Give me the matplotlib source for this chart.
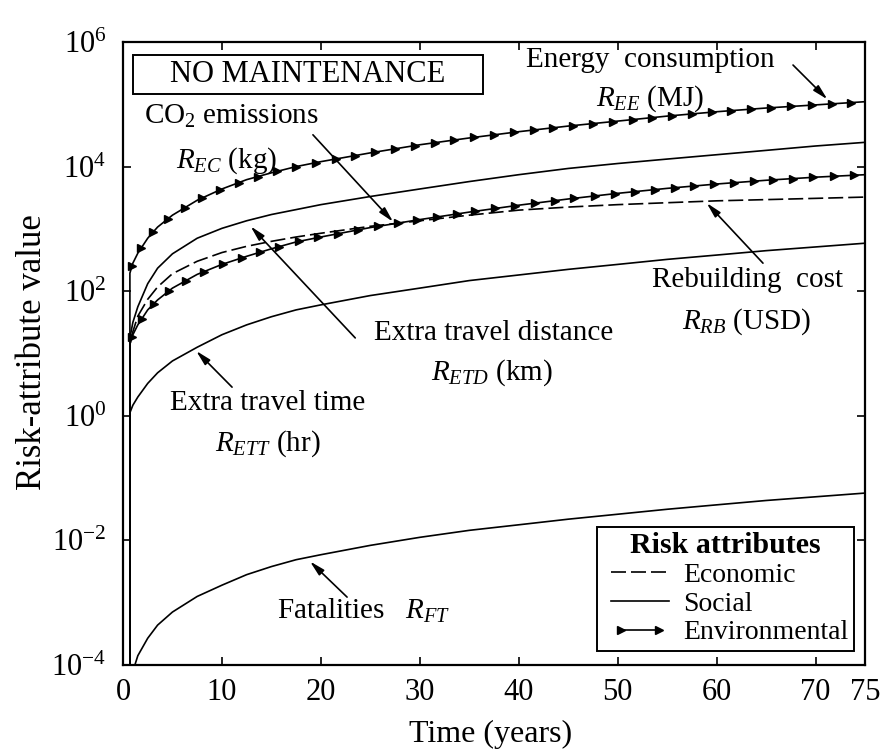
import numpy as np
import matplotlib
matplotlib.use("Agg")
import matplotlib.pyplot as plt
from matplotlib.lines import Line2D
from matplotlib.legend_handler import HandlerLine2D
from matplotlib.patches import Rectangle
from matplotlib.ticker import FixedLocator, LogFormatterMathtext, NullLocator

plt.rcParams.update({
    "font.family": "Liberation Serif",
    "mathtext.fontset": "custom",
    "mathtext.rm": "Liberation Serif",
    "mathtext.it": "Liberation Serif:italic",
    "mathtext.bf": "Liberation Serif:bold",
})

# Time axis (years) and cumulative risk attributes, no maintenance scenario
years = [0.62, 0.7, 1.0, 1.5, 2.5, 3.5, 5, 7.5, 10, 12.5, 15, 17.5, 20,
         25, 30, 35, 40, 45, 50, 55, 60, 65, 70, 75]
energy_mj = [0, 195, 282, 407, 708, 1070, 1660, 2880, 4370, 6170, 7940,
             10000, 12000, 16600, 22400, 28800, 36300, 44700, 53700, 64600,
             75900, 87100, 97700, 110000]
travel_distance_km = [0, 17.8, 31.6, 56.2, 132, 234, 398, 708, 1020, 1350,
                      1700, 2040, 2450, 3310, 4370, 5750, 7410, 9330, 11200,
                      13200, 15500, 18200, 21400, 24500]
co2_kg = [0, 14.1, 20.0, 28.8, 50.1, 72.4, 112, 186, 269, 363, 479, 617,
          741, 1050, 1410, 1860, 2400, 3020, 3720, 4470, 5250, 6030, 6760,
          7410]
rebuilding_usd = [0, 14.1, 22.4, 39.8, 74.1, 117, 191, 302, 417, 525, 631,
                  741, 851, 1100, 1350, 1660, 2000, 2240, 2450, 2630, 2820,
                  2950, 3090, 3240]
travel_time_hr = [0, 1.12, 1.48, 2.0, 3.31, 4.9, 7.59, 12.6, 20.0, 28.8,
                  38.9, 50.1, 60.3, 85.1, 112, 148, 182, 224, 269, 324, 380,
                  447, 513, 589]
fatalities = [0, 0, 7.9e-5, 1.41e-4, 2.69e-4, 4.37e-4, 7.08e-4, 1.26e-3,
              1.91e-3, 2.82e-3, 3.80e-3, 4.90e-3, 5.89e-3, 8.32e-3, 0.0112,
              0.0145, 0.0178, 0.0219, 0.0263, 0.0316, 0.0372, 0.0437, 0.0501,
              0.0575]

x_ticks = [0, 10, 20, 30, 40, 50, 60, 70, 75]
y_ticks = [1e-4, 1e-2, 1e0, 1e2, 1e4, 1e6]

LW = 1.2
DASH = (0, (9, 3))
MS = 6


def along_segments(ts, vs, n=40):
    """Points lying on the straight (log-y) segments of a polyline,
    used only to space the triangle markers evenly along the curve."""
    ts = np.asarray(ts, float)
    lv = np.log10(np.asarray(vs, float))
    xs, ys = [], []
    s = np.linspace(0.0, 1.0, n, endpoint=False)
    for i in range(len(ts) - 1):
        xs.append(ts[i] + s * (ts[i + 1] - ts[i]))
        ys.append(lv[i] + s * (lv[i + 1] - lv[i]))
    xs.append([ts[-1]])
    ys.append([lv[-1]])
    return np.concatenate(xs), 10 ** np.concatenate(ys)


fig = plt.figure(figsize=(8.86, 7.55), dpi=100)
ax = fig.add_axes([0.1388, 0.1192, 0.8375, 0.8252])
ax.set_yscale("log")
ax.set_xlim(0, 75)
ax.set_ylim(1e-4, 1e6)

# social
ax.plot(years, travel_distance_km, color="k", lw=LW)
ax.plot(years, travel_time_hr, color="k", lw=LW)
ax.plot(years, fatalities, color="k", lw=LW)
# economic
ax.plot(years, rebuilding_usd, color="k", lw=LW, ls=DASH)
# environmental
for series in (energy_mj, co2_kg):
    ax.plot(years, series, color="k", lw=LW)
    mx, my = along_segments(years[1:], series[1:])
    ax.plot(mx, my, ls="none", marker=">", ms=MS, color="k",
            markevery=(0.008, 0.0206))

ax.xaxis.set_major_locator(FixedLocator(x_ticks))
ax.yaxis.set_major_locator(FixedLocator(y_ticks))
ax.yaxis.set_major_formatter(LogFormatterMathtext())
ax.yaxis.set_minor_locator(NullLocator())
ax.tick_params(which="both", direction="in", top=True, right=True,
               length=6, width=1.2, labelsize=22)
ax.tick_params(axis="x", pad=9)
ax.tick_params(axis="y", pad=12)
for sp in ax.spines.values():
    sp.set_linewidth(1.6)

ax.set_xlabel("Time (years)", fontsize=23)
ax.set_ylabel("Risk-attribute value", fontsize=25)
ax.xaxis.set_label_coords(0.495, -0.088)
ax.yaxis.set_label_coords(-0.100, 0.503)

# scenario box
ax.add_patch(Rectangle((0.0135, 0.9165), 0.4715, 0.0625, transform=ax.transAxes,
                       fill=False, lw=1.4, ec="k", zorder=5))
ax.text(0.249, 0.947, "NO MAINTENANCE", transform=ax.transAxes,
        ha="center", va="center", fontsize=22)

FS = 21
arrow = dict(arrowstyle="-|>,head_length=0.9,head_width=0.22", color="k",
             lw=1.2, shrinkA=0, shrinkB=0)

labels = [
    ("Energy  consumption", r"$R_{EE}$ (MJ)", (0.710, 0.971), (0.710, 0.909),
     (0.903, 0.963), (71.2, 1.2e5)),
    (r"CO$_2$ emissions", r"$R_{EC}$ (kg)", (0.1456, 0.880), (0.140, 0.809),
     (0.256, 0.851), (27.3, 1300)),
    ("Extra travel distance", r"$R_{ETD}$ (km)", (0.500, 0.533), (0.497, 0.469),
     (0.313, 0.525), (12.9, 1100)),
    ("Extra travel time", r"$R_{ETT}$ (hr)", (0.195, 0.4205), (0.195, 0.356),
     (0.147, 0.446), (7.4, 11)),
    ("Rebuilding  cost", r"$R_{RB}$ (USD)", (0.842, 0.618), (0.840, 0.551),
     (0.8625, 0.645), (59, 2600)),
]
for line1, line2, p1, p2, tail, tip in labels:
    ax.text(*p1, line1, transform=ax.transAxes, ha="center", va="center",
            fontsize=FS)
    ax.text(*p2, line2, transform=ax.transAxes, ha="center", va="center",
            fontsize=FS)
    ax.annotate("", xy=tip, xycoords="data", xytext=tail,
                textcoords="axes fraction", arrowprops=arrow)

ax.text(0.208, 0.0867, r"Fatalities   $R_{FT}$", transform=ax.transAxes,
        ha="left", va="center", fontsize=FS)
ax.annotate("", xy=(18.9, 4.6e-3), xycoords="data", xytext=(0.302, 0.109),
            textcoords="axes fraction", arrowprops=arrow)

h_econ = Line2D([], [], color="k", lw=LW, ls=DASH)
h_soc = Line2D([], [], color="k", lw=LW)
h_env = Line2D([], [], color="k", lw=LW, marker=">", ms=MS)
leg = ax.legend([h_econ, h_soc, h_env], ["Economic", "Social", "Environmental"],
                title="Risk attributes",
                title_fontproperties={"weight": "bold", "size": 21.5},
                fontsize=20, loc="lower right", bbox_to_anchor=(0.985, 0.0225),
                borderaxespad=0, fancybox=False, framealpha=1, edgecolor="k",
                handlelength=2.7, handletextpad=0.2, labelspacing=0.12,
                borderpad=0.2, numpoints=2,
                handler_map={h_env: HandlerLine2D(marker_pad=0.65, numpoints=2)})
leg.get_frame().set_linewidth(1.4)

fig.savefig("out.png", dpi=100)
